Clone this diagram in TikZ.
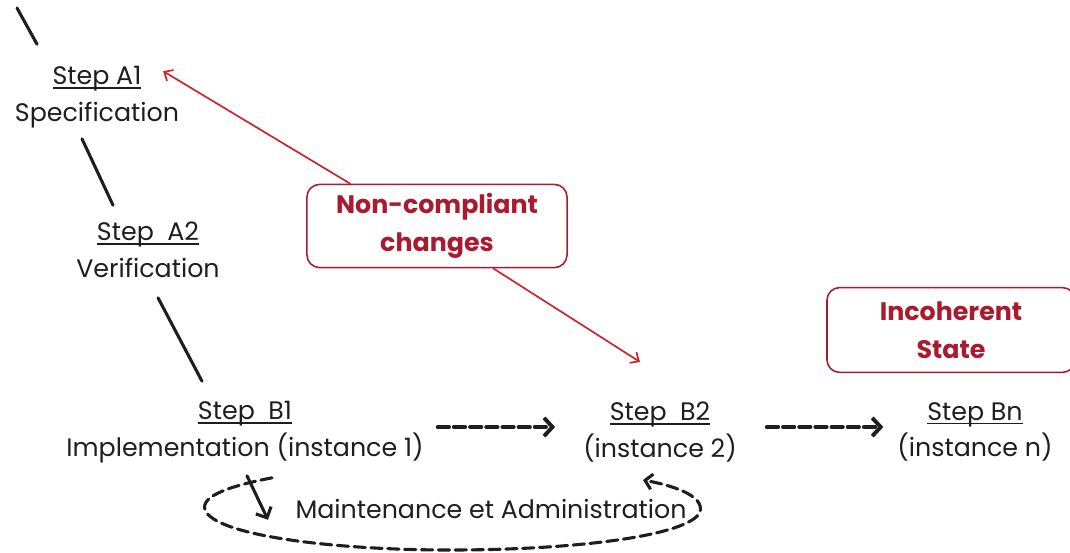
\documentclass[tikz,border=0pt]{standalone}
\usepackage{fontspec}
\setmainfont{Poppins}
\usetikzlibrary{arrows.meta, positioning, calc}
\definecolor{boxred}{RGB}{170,25,45}
\definecolor{arrred}{RGB}{205,35,45}
\definecolor{ink}{RGB}{30,30,30}
% underlined step title, rule close under the baseline
\newcommand{\ttl}[1]{\setbox0=\hbox{#1}\rlap{\rule[-2.8pt]{\wd0}{1.1pt}}\box0}

\begin{document}
\begin{tikzpicture}[x=0.025cm, y=-0.025cm, line cap=round, line join=round,
    stepnode/.style={align=center, text=ink, inner sep=2pt,
      font=\fontsize{18}{26}\selectfont},
    note/.style={draw=boxred, line width=1.1pt, rounded corners=9pt,
      text=boxred, align=center, font=\fontsize{18}{27}\selectfont\bfseries},
    seg/.style={draw=ink, line width=2.2pt},
    flow/.style={draw=ink, line width=2.8pt, dash pattern=on 8pt off 3.5pt,
      -{Straight Barb[length=6pt, width=13pt]}},
    loopline/.style={draw=ink, line width=2.2pt, dash pattern=on 8pt off 4pt},
    chg/.style={draw=arrred, line width=1.2pt,
      -{Straight Barb[length=5pt, width=9pt]}}]
  \useasboundingbox (0,0) rectangle (1070,552);
  % ================= steps =================
  \node[stepnode] (a1) at (97,97) {\ttl{Step A1}\\Specification};
  \node[stepnode] (a2) at (148,250) {\ttl{Step~ A2}\\Verification};
  \node[stepnode] (b1) at (245,432) {\ttl{Step~ B1}\\Implementation (instance 1)};
  \node[stepnode] (b2) at (660,432) {\ttl{Step~ B2}\\(instance 2)};
  \node[stepnode] (bn) at (975,432) {\ttl{Step Bn}\\(instance n)};
  \node[stepnode] (maint) at (491,509) {Maintenance et Administration};
  % ================= red notes =================
  \node[note, minimum width=6.5cm, minimum height=2.08cm] (nc) at (437,226)
    {Non-compliant\\changes};
  \node[note, minimum width=6.2cm, minimum height=2.12cm] (inc) at (951,330)
    {Incoherent\\State};
  % chain of steps
  \coordinate (top) at (17,8);
  \draw[seg] (top) -- ($(a1.north)+(-60,-19)$);
  \draw[seg] ($(a1.south)+(-15,8)$) -- ($(a2.north)+(-35,-14)$);
  \draw[seg] ($(a2.south)+(10,17)$) -- ($(b1.north)+(-43,-17)$);
  % instances
  \draw[flow] ([shift={(11,-5)}]b1.east) -- ([shift={(-25,-5)}]b2.west);
  \draw[flow] ([shift={(27,-5)}]b2.east) -- ([shift={(-11,-5)}]bn.west);
  % maintenance loop
  \draw[loopline, -{Straight Barb[length=5pt, width=11pt]}]
    ($(b1.south)+(27,12)$) .. controls (235,485) and (200,495) .. (205,510)
    .. controls (215,535) and (330,550) .. (450,550)
    .. controls (580,550) and (690,535) .. (700,512)
    .. controls (705,495) and (670,485) .. ($(b2.south)+(-17,15)$);
  \draw[draw=ink, line width=2.2pt, -{Straight Barb[length=6pt, width=12pt]}]
    ($(b1.south)+(2,10)$) -- ($(b1.south)+(23,54)$);
  % non-compliant changes
  \draw[chg] (nc.154) -- ([shift={(-19,8)}]a1.north east);
  \draw[chg] (nc.-37) -- ([shift={(-20,-37)}]b2.north);
\end{tikzpicture}
\end{document}
